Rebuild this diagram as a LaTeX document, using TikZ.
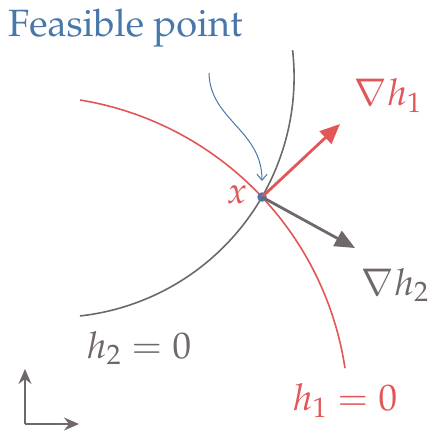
\documentclass[tikz,border=0pt]{standalone}
\usepackage[T1]{fontenc}
\usepackage{mathpazo}
\usetikzlibrary{arrows.meta}
\definecolor{cred}{RGB}{226,86,88}
\definecolor{cgray}{RGB}{112,104,104}
\definecolor{cblue}{RGB}{72,120,170}
\tikzset{
  lbl/.style={inner sep=0pt, font=\fontsize{37}{42}\selectfont},
  txt/.style={inner sep=0pt, font=\fontsize{38}{44}\selectfont},
  curve/.style={line width=1.6pt},
  grad/.style={line width=2.8pt, -{Triangle[length=20pt,width=17pt]}},
  axis/.style={line width=1.8pt, cgray, -{Stealth[length=15pt,width=13pt,inset=5pt]}}
}
\begin{document}
\begin{tikzpicture}[x=1pt,y=-1pt]
\useasboundingbox (0,0) rectangle (435,432);
% curves (circular arcs)
\coordinate (c2) at (53.6,76.9);
\coordinate (c1) at (28.4,416);
\draw[curve, cgray] ([shift={(-6.4:240.5)}]c2) arc[start angle=-6.4, end angle=83.7, radius=240.5];
\draw[curve, cred] ([shift={(-80.7:320.2)}]c1) arc[start angle=-80.7, end angle=-8.6, radius=320.2];
% point
\node[circle, fill=cblue, minimum size=9.5pt, inner sep=0pt] (x) at (262,197) {};
\coordinate (g1) at (340,124);
\coordinate (g2) at (355,248);
\draw[grad, cred] (x.center) -- (g1);
\draw[grad, cgray] (x.center) -- (g2);
% labels
\node[txt, cblue, anchor=base west] (fp) at (8,36) {Feasible point};
\node[lbl, cred] (lx) at (237,195) {$x$};
\node[lbl, cred] (lg1) at (388,96) {$\nabla h_1$};
\node[lbl, cgray] (lg2) at (395,285) {$\nabla h_2$};
\node[lbl, cgray] (l2) at (139,348) {$h_2=0$};
\node[lbl, cred] (l1) at (345,401) {$h_1=0$};
% feasible pointer
\coordinate (fs) at (209,73);
\draw[cblue, line width=1pt, -{Straight Barb[length=6pt,width=10pt,line width=1pt]}] (fs) .. controls (210,120) and (262,130) .. (262,181);
% axes
\coordinate (o) at (25,424);
\coordinate (ay) at (25,369);
\coordinate (ax) at (79,424);
\draw[axis] (o) -- (ay);
\draw[axis] (o) -- (ax);
\end{tikzpicture}
\end{document}
